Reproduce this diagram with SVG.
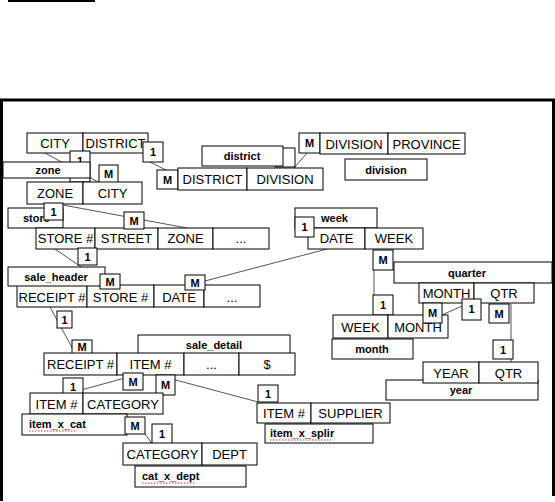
<svg xmlns="http://www.w3.org/2000/svg" width="555" height="502" viewBox="0 0 555 502">
<style>
rect{fill:#fff;stroke:#000;stroke-width:1}
text{font-family:"Liberation Sans",Arial,sans-serif;fill:#000}
.f{font-size:13px;text-anchor:middle}
.k{font-size:11px;font-weight:bold;text-anchor:middle}
.l{font-size:11px;font-weight:bold;text-anchor:middle}
.ls{font-size:11px;font-weight:bold}
.cn line{stroke:#555;stroke-width:1}
.sq{stroke:#d33;stroke-width:1;stroke-dasharray:1.5 1.5;fill:none}
</style>
<line x1="8" y1="1" x2="95" y2="1" stroke="#000" stroke-width="2"/>
<path d="M1.5,501 V100 H553.5 V496" fill="none" stroke="#000" stroke-width="3"/>
<g id="connectors" class="cn">
<line x1="45" y1="153" x2="100" y2="183"/>
<line x1="150" y1="162" x2="178" y2="176"/>
<line x1="307" y1="153" x2="294" y2="168"/>
<line x1="63" y1="205" x2="187" y2="228"/>
<line x1="55" y1="249" x2="103" y2="282"/>
<line x1="205" y1="281" x2="327" y2="249"/>
<line x1="50" y1="307" x2="75" y2="353"/>
<line x1="374" y1="270" x2="374" y2="295"/>
<line x1="442" y1="315" x2="462" y2="306"/>
<line x1="511" y1="304" x2="511" y2="362"/>
<line x1="125" y1="378" x2="70" y2="393"/>
<line x1="157" y1="375" x2="258" y2="402"/>
<line x1="140" y1="427" x2="153" y2="445"/>
</g>
<g id="city_district">
<rect x="27" y="133" width="56" height="20"/><rect x="83" y="133" width="65" height="20"/>
<text class="f" x="55" y="148">CITY</text><text class="f" x="115.5" y="148">DISTRICT</text>
</g>
<g id="zone">
<rect x="70" y="151" width="20" height="31"/><text class="k" x="80" y="165">1</text>
<rect x="3" y="162" width="87" height="16"/><text class="l" x="48" y="174">zone</text>
<rect x="99" y="165" width="19" height="18"/><text class="k" x="108.5" y="178">M</text>
<rect x="27" y="182" width="56" height="22"/><rect x="83" y="182" width="59" height="22"/>
<text class="f" x="55" y="198">ZONE</text><text class="f" x="112.5" y="198">CITY</text>
</g>
<g id="district">
<rect x="143" y="142" width="20" height="20"/><text class="k" x="153" y="156">1</text>
<rect x="275" y="148" width="20" height="19"/>
<rect x="202" y="146" width="81" height="20"/><text class="l" x="242" y="160">district</text>
<rect x="157" y="170" width="21" height="19"/><text class="k" x="167.5" y="184">M</text>
<rect x="178" y="168" width="69" height="22"/><rect x="247" y="168" width="76" height="22"/>
<text class="f" x="212.5" y="184">DISTRICT</text><text class="f" x="285" y="184">DIVISION</text>
</g>
<g id="division">
<rect x="299" y="133" width="21" height="20"/><text class="k" x="309.5" y="147">M</text>
<rect x="320" y="133" width="68" height="21"/><rect x="388" y="133" width="77" height="21"/>
<text class="f" x="354" y="148.5">DIVISION</text><text class="f" x="426.5" y="148.5">PROVINCE</text>
<rect x="345" y="159" width="82" height="21"/><text class="l" x="386" y="174">division</text>
</g>
<g id="store">
<rect x="8" y="208" width="55" height="20"/><text class="ls" x="23" y="222">store</text>
<rect x="44" y="203" width="19" height="17"/><text class="k" x="53.5" y="216">1</text>
<rect x="36" y="228" width="59" height="21"/><rect x="95" y="228" width="63" height="21"/><rect x="158" y="228" width="55" height="21"/><rect x="213" y="228" width="56" height="21"/>
<text class="f" x="65.5" y="243">STORE #</text><text class="f" x="126.5" y="243">STREET</text><text class="f" x="185.5" y="243">ZONE</text><text class="f" x="241" y="243">...</text>
<rect x="124" y="212" width="20" height="17"/><text class="k" x="134" y="225">M</text>
</g>
<g id="sale_header">
<rect x="78" y="248" width="19" height="17"/><text class="k" x="87.5" y="261">1</text>
<rect x="17" y="285" width="70" height="22"/><rect x="87" y="285" width="67" height="22"/><rect x="154" y="285" width="50" height="22"/><rect x="204" y="285" width="56" height="22"/>
<text class="f" x="52" y="301.5">RECEIPT #</text><text class="f" x="120.5" y="301.5">STORE #</text><text class="f" x="179" y="301.5">DATE</text><text class="f" x="232" y="301.5">...</text>
<rect x="8" y="267" width="97" height="19"/><text class="l" x="56" y="281">sale_header</text>
<rect x="100" y="274" width="20" height="15"/><text class="k" x="110" y="286">M</text>
<rect x="185" y="275" width="20" height="15"/><text class="k" x="195" y="287">M</text>
</g>
<g id="sale_detail">
<rect x="57" y="311" width="15" height="17"/><text class="k" x="64.5" y="324">1</text>
<rect x="138" y="335" width="152" height="20"/><text class="l" x="214" y="349">sale_detail</text>
<rect x="72" y="340" width="20" height="14"/><text class="k" x="82" y="351">M</text>
<rect x="44" y="353" width="73" height="22"/><rect x="117" y="353" width="67" height="22"/><rect x="184" y="353" width="55" height="22"/><rect x="239" y="353" width="56" height="22"/>
<text class="f" x="80.5" y="369">RECEIPT #</text><text class="f" x="150.5" y="369">ITEM #</text><text class="f" x="211.5" y="369">...</text><text class="f" x="267" y="369">$</text>
</g>
<g id="item_category">
<rect x="123" y="373" width="20" height="17"/><text class="k" x="133" y="386">M</text>
<rect x="156" y="375" width="19" height="20"/><text class="k" x="165.5" y="389">M</text>
<rect x="63" y="378" width="20" height="17"/><text class="k" x="73" y="391">1</text>
<rect x="30" y="393" width="53" height="21"/><rect x="83" y="393" width="80" height="21"/>
<text class="f" x="56.5" y="408.5">ITEM #</text><text class="f" x="123" y="408.5">CATEGORY</text>
<rect x="22" y="414" width="105" height="21"/><text class="ls" x="29" y="428">item_x_cat</text>
<path class="sq" d="M29,431 H77"/>
</g>
<g id="item_supplier">
<rect x="258" y="385" width="20" height="17"/><text class="k" x="268" y="398">1</text>
<rect x="257" y="403" width="54" height="20"/><rect x="311" y="403" width="79" height="20"/>
<text class="f" x="284" y="418">ITEM #</text><text class="f" x="350.5" y="418">SUPPLIER</text>
<rect x="265" y="424" width="108" height="19"/><text class="ls" x="270" y="437">item_x_splir</text>
<path class="sq" d="M270,440 H331"/>
</g>
<g id="category_dept">
<rect x="125" y="417" width="20" height="17"/><text class="k" x="135" y="430">M</text>
<rect x="152" y="424" width="20" height="21"/><text class="k" x="162" y="438">1</text>
<rect x="123" y="443" width="79" height="22"/><rect x="202" y="443" width="55" height="22"/>
<text class="f" x="162.5" y="459">CATEGORY</text><text class="f" x="229.5" y="459">DEPT</text>
<rect x="135" y="466" width="111" height="21"/><text class="ls" x="142" y="480">cat_x_dept</text>
<path class="sq" d="M142,483 H195"/>
</g>
<g id="week">
<rect x="295" y="208" width="82" height="20"/><text class="ls" x="321" y="222">week</text>
<rect x="308" y="228" width="57" height="21"/><rect x="365" y="228" width="58" height="21"/>
<text class="f" x="336.5" y="243">DATE</text><text class="f" x="394" y="243">WEEK</text>
<rect x="295" y="217" width="19" height="20"/><text class="k" x="304.5" y="231">1</text>
</g>
<g id="quarter">
<rect x="373" y="250" width="20" height="20"/><text class="k" x="383" y="264">M</text>
<rect x="394" y="262" width="158" height="21"/><text class="l" x="467" y="277">quarter</text>
<rect x="419" y="283" width="55" height="20"/><rect x="474" y="283" width="60" height="20"/>
<text class="f" x="446.5" y="298">MONTH</text><text class="f" x="504" y="298">QTR</text>
</g>
<g id="month">
<rect x="373" y="295" width="20" height="20"/><text class="k" x="383" y="309">1</text>
<rect x="333" y="315" width="55" height="23"/><rect x="388" y="315" width="60" height="23"/>
<text class="f" x="360.5" y="331.5">WEEK</text><text class="f" x="418" y="331.5">MONTH</text>
<rect x="332" y="339" width="81" height="20"/><text class="l" x="372" y="353">month</text>
<rect x="423" y="303" width="19" height="20"/><text class="k" x="432.5" y="317">M</text>
<rect x="462" y="299" width="19" height="21"/><text class="k" x="471.5" y="313">1</text>
</g>
<g id="year">
<rect x="489" y="304" width="20" height="19"/><text class="k" x="499" y="318">M</text>
<rect x="493" y="340" width="20" height="19"/><text class="k" x="503" y="354">1</text>
<rect x="386" y="380" width="152" height="20"/><text class="l" x="461" y="394">year</text>
<rect x="423" y="362" width="56" height="21"/><rect x="479" y="362" width="59" height="21"/>
<text class="f" x="451" y="377.5">YEAR</text><text class="f" x="508.5" y="377.5">QTR</text>
</g>
</svg>
